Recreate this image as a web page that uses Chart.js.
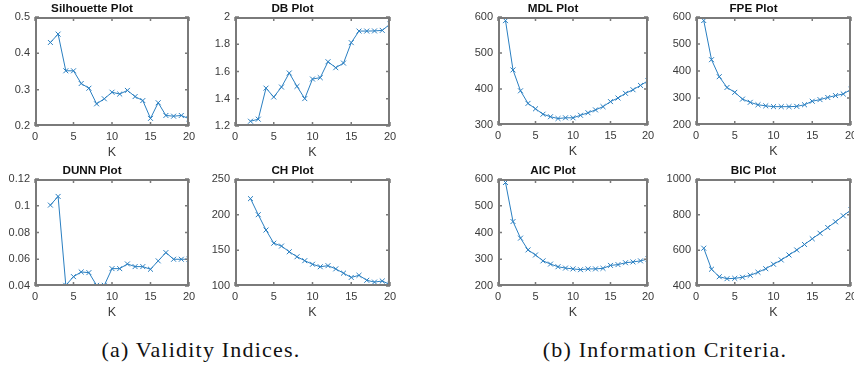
<!DOCTYPE html>
<html>
<head>
<meta charset="utf-8">
<script src="https://cdn.jsdelivr.net/npm/chart.js@4/dist/chart.umd.min.js"></script>
<style>
  html, body { margin: 0; padding: 0; background: #fff; width: 854px; height: 369px; overflow: hidden; position: relative; }
  canvas { position: absolute; }
  .cap { position: absolute; top: 337px; font-family: "Liberation Serif", serif; font-size: 22px; letter-spacing: 1.2px; color: #111; text-align: center; width: 360px; white-space: nowrap; }
</style>
</head>
<body>
<div class="cap" style="left:21px">(a) Validity Indices.</div>
<div class="cap" style="left:485px">(b) Information Criteria.</div>
<script>
// K values
const kValidity = [2, 3, 4, 5, 6, 7, 8, 9, 10, 11, 12, 13, 14, 15, 16, 17, 18, 19, 20];
const kCriteria = [1, 2, 3, 4, 5, 6, 7, 8, 9, 10, 11, 12, 13, 14, 15, 16, 17, 18, 19, 20];
const xTicks = [0, 5, 10, 15, 20];

// validity indices
const silhouette = [0.430, 0.453, 0.352, 0.352, 0.317, 0.304, 0.261, 0.275, 0.293, 0.288, 0.298, 0.281, 0.270, 0.221, 0.264, 0.229, 0.227, 0.229, 0.220];
const db = [1.235, 1.250, 1.478, 1.413, 1.486, 1.589, 1.491, 1.401, 1.545, 1.555, 1.672, 1.628, 1.662, 1.812, 1.897, 1.897, 1.898, 1.902, 1.948];
const dunn = [0.1005, 0.107, 0.0405, 0.047, 0.0505, 0.050, 0.0405, 0.0405, 0.053, 0.053, 0.0565, 0.0545, 0.0545, 0.0525, 0.0588, 0.065, 0.060, 0.060, 0.060];
const ch = [222.5, 200, 178.5, 160, 156, 148, 141, 135.5, 130.5, 127, 128.5, 124, 118, 112, 115, 108, 105.5, 107, 102];

// information criteria
const mdl = [590, 453, 395, 360, 345, 330, 323, 318, 320, 320, 327, 334, 342, 351, 365, 375, 388, 398, 410, 423];
const fpe = [587, 442, 379, 339, 321, 296, 284, 275, 271, 268, 268, 268, 269, 275, 288, 294, 302, 309, 315, 332];
const aic = [587, 441, 379, 335, 316, 294, 282, 272, 267, 264, 261, 264, 264, 266, 277, 280, 287, 290, 294, 301];
const bic = [612, 494, 452, 441, 443, 449, 460, 477, 497, 522, 546, 574, 602, 633, 665, 696, 728, 760, 794, 827];

// y tick labels
const silTicks = [0.2, 0.3, 0.4, 0.5];
const dbTicks = [1.2, 1.4, 1.6, 1.8, 2];
const dunnTicks = [0.04, 0.06, 0.08, 0.1, 0.12];
const chTicks = [100, 150, 200, 250];
const mdlTicks = [300, 400, 500, 600];
const fpeTicks = [200, 300, 400, 500, 600];
const aicTicks = [200, 300, 400, 500, 600];
const bicTicks = [400, 600, 800, 1000];

const LINE = '#2a7fc1';
const SANS = 'Liberation Sans, Arial, sans-serif';
const TICK_FONT = { family: SANS, size: 11 };

const LEFT_W = 40, TOP_H = 17, BOTTOM_H = 34, RIGHT_PAD = 14;

// box + inward ticks like matlab axes
const axesBox = {
  id: 'axesBox',
  afterDatasetsDraw(chart) {
    const ctx = chart.ctx, a = chart.chartArea, sx = chart.scales.x, sy = chart.scales.y;
    ctx.save();
    ctx.strokeStyle = '#7a7a7a';
    ctx.lineWidth = 2;
    ctx.beginPath();
    ctx.rect(a.left + 1, a.top + 1, a.right - a.left - 2, a.bottom - a.top - 2);
    ctx.stroke();
    ctx.lineWidth = 1.5;
    ctx.beginPath();
    sx.ticks.forEach(t => {
      const px = sx.getPixelForValue(t.value);
      ctx.moveTo(px, a.bottom); ctx.lineTo(px, a.bottom - 4);
      ctx.moveTo(px, a.top); ctx.lineTo(px, a.top + 4);
    });
    sy.ticks.forEach(t => {
      const py = sy.getPixelForValue(t.value);
      ctx.moveTo(a.left, py); ctx.lineTo(a.left + 4, py);
      ctx.moveTo(a.right, py); ctx.lineTo(a.right - 4, py);
    });
    ctx.stroke();
    ctx.restore();
  }
};

function makeChart(box, title, ks, vals, yTicks) {
  const cv = document.createElement('canvas');
  const w = (box.r - box.l) + LEFT_W + RIGHT_PAD;
  const h = (box.b - box.t) + TOP_H + BOTTOM_H;
  cv.width = w; cv.height = h;
  cv.style.left = (box.l - LEFT_W) + 'px';
  cv.style.top = (box.t - TOP_H) + 'px';
  cv.style.width = w + 'px';
  cv.style.height = h + 'px';
  document.body.appendChild(cv);

  return new Chart(cv, {
    type: 'line',
    plugins: [axesBox],
    data: {
      datasets: [{
        data: ks.map((k, i) => ({ x: k, y: vals[i] })),
        borderColor: LINE,
        borderWidth: 1,
        pointStyle: 'crossRot',
        pointRadius: 3.5,
        pointBorderColor: LINE,
        pointBorderWidth: 1,
        tension: 0
      }]
    },
    options: {
      responsive: false,
      animation: false,
      devicePixelRatio: 1,
      layout: { padding: { left: 0, top: 0, right: RIGHT_PAD, bottom: 0 } },
      plugins: {
        legend: { display: false },
        tooltip: { enabled: false },
        title: {
          display: true,
          text: title,
          color: '#111',
          font: { family: SANS, size: 11.7, weight: 'bold', lineHeight: 1.2 },
          padding: { top: 2, bottom: 1 }
        }
      },
      scales: {
        x: {
          type: 'linear',
          min: 0, max: 20,
          afterBuildTicks: s => { s.ticks = xTicks.map(v => ({ value: v })); },
          afterFit: s => { s.height = BOTTOM_H; s.paddingLeft = 0; s.paddingRight = 0; },
          grid: { display: false, drawTicks: false },
          border: { display: false },
          ticks: { color: '#3a3a3a', font: TICK_FONT, padding: 4, maxRotation: 0, callback: v => String(v) },
          title: { display: true, text: 'K', color: '#3a3a3a', font: { family: SANS, size: 12.5 }, padding: { top: 0, bottom: 0 } }
        },
        y: {
          min: yTicks[0], max: yTicks[yTicks.length - 1],
          afterBuildTicks: s => { s.ticks = yTicks.map(v => ({ value: v })); },
          afterFit: s => { s.width = LEFT_W; s.paddingTop = 0; s.paddingBottom = 0; },
          grid: { display: false, drawTicks: false },
          border: { display: false },
          ticks: { color: '#3a3a3a', font: TICK_FONT, padding: 5, callback: v => String(+v.toFixed(3)) }
        }
      }
    }
  });
}

makeChart({ l: 35, t: 17, r: 189, b: 126 }, 'Silhouette Plot', kValidity, silhouette, silTicks);
makeChart({ l: 235, t: 17, r: 390, b: 126 }, 'DB Plot', kValidity, db, dbTicks);
makeChart({ l: 35, t: 179, r: 189, b: 286 }, 'DUNN Plot', kValidity, dunn, dunnTicks);
makeChart({ l: 235, t: 179, r: 390, b: 286 }, 'CH Plot', kValidity, ch, chTicks);
makeChart({ l: 498, t: 17, r: 648, b: 125 }, 'MDL Plot', kCriteria, mdl, mdlTicks);
makeChart({ l: 696, t: 17, r: 851, b: 125 }, 'FPE Plot', kCriteria, fpe, fpeTicks);
makeChart({ l: 498, t: 179, r: 648, b: 286 }, 'AIC Plot', kCriteria, aic, aicTicks);
makeChart({ l: 696, t: 179, r: 851, b: 286 }, 'BIC Plot', kCriteria, bic, bicTicks);
</script>
</body>
</html>
